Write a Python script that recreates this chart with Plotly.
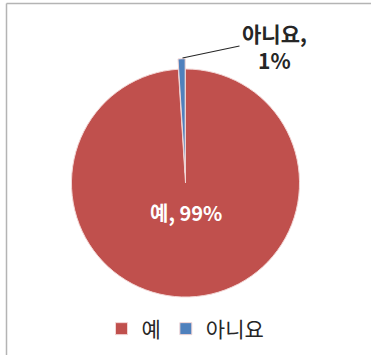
import plotly.graph_objects as go

# Survey answer shares
labels = ["예", "아니요"]
values = [99, 1]
colors = ["#C0504D", "#4F81BD"]

FONT = "Noto Sans CJK KR"
W, H = 371, 355

fig = go.Figure()

fig.add_trace(go.Pie(
    labels=labels,
    values=values,
    sort=False,
    direction="clockwise",
    rotation=0,
    pull=[0, 0.09],
    marker=dict(colors=colors, line=dict(color="#F3D6D5", width=1)),
    textinfo="none",
    hoverinfo="label+percent",
    domain=dict(x=[0.165, 0.835], y=[0.134, 0.835]),
))

# Label for the large slice, placed inside it
fig.add_annotation(
    x=186 / W, y=1 - 212 / H, xref="paper", yref="paper",
    text=f"{labels[0]}, {values[0]}%", showarrow=False,
    xanchor="center", yanchor="middle",
    font=dict(family=FONT, size=20, color="white", weight="bold"),
)

# Callout for the small slice, with a leader line to its outer tip
fig.add_annotation(
    x=182.5 / W, y=1 - 58 / H, xref="paper", yref="paper",
    text=f"{labels[1]},<br>{values[1]}%",
    showarrow=True, arrowhead=0, arrowwidth=1.2, arrowcolor="#262626",
    ax=57, ay=-12, xanchor="left", yanchor="middle", align="center",
    font=dict(family=FONT, size=21, color="#262626", weight="bold"),
)

# Chart frame (left and top edges)
fig.add_shape(type="line", xref="paper", yref="paper",
              x0=6.5 / W, x1=6.5 / W, y0=-0.05, y1=1 - 3.5 / H,
              line=dict(color="#B4B4B4", width=1.5))
fig.add_shape(type="line", xref="paper", yref="paper",
              x0=6.5 / W, x1=1.05, y0=1 - 3.5 / H, y1=1 - 3.5 / H,
              line=dict(color="#B4B4B4", width=1.5))

fig.update_layout(
    width=W, height=H,
    margin=dict(l=0, r=0, t=0, b=0),
    paper_bgcolor="white",
    plot_bgcolor="white",
    showlegend=True,
    legend=dict(
        orientation="h",
        x=0.5, xanchor="center",
        y=1 - 329 / H, yanchor="middle",
        font=dict(family=FONT, size=21, color="#262626"),
        itemwidth=30,
        traceorder="normal",
    ),
)

fig.write_html("out.html")
